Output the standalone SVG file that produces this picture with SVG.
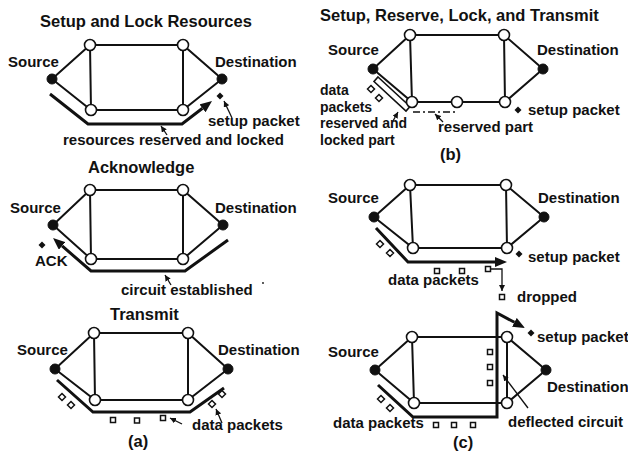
<svg xmlns="http://www.w3.org/2000/svg" width="628" height="453" viewBox="0 0 628 453">
<style>
text{font-family:"Liberation Sans",Arial,Helvetica,sans-serif;font-weight:bold;fill:#111}
.t{font-size:16.5px}
.l{font-size:15px}
.s{font-size:14px}
.e{stroke:#111;stroke-width:2;fill:none}
.c{stroke:#111;stroke-width:3;fill:none;stroke-linejoin:miter}
.p{stroke:#111;stroke-width:1.3;fill:none}
.on{fill:#fff;stroke:#111;stroke-width:1.6}
.fn{fill:#111;stroke:#111;stroke-width:1}
.sp{fill:#111}
.dp{fill:#fff;stroke:#111;stroke-width:1.5}
</style>
<defs>
<marker id="big" viewBox="0 0 12 10" refX="0" refY="5" markerWidth="12" markerHeight="10" markerUnits="userSpaceOnUse" orient="auto"><path d="M0,0 L12,5 L0,10 z" fill="#111"/></marker>
<marker id="ptr" viewBox="0 0 6 6" refX="6" refY="3" markerWidth="6" markerHeight="6" markerUnits="userSpaceOnUse" orient="auto"><path d="M0,0 L6,3 L0,6 z" fill="#111"/></marker>
<g id="dia"><polygon points="0,-3.5 3.5,0 0,3.5 -3.5,0"/></g>
</defs>
<rect width="628" height="453" fill="#fff"/>

<g id="connectors">
<!-- panel a1 edges -->
<path class="e" d="M52,79 L90,45 L183,45 L222,79 L183,110 L91,110 Z M90,45 L91,110 M183,45 L183,110"/>
<!-- panel a2 edges -->
<path class="e" d="M53,225 L90,190 L183,190 L223,225 L183,259 L91,259 Z M90,190 L91,259 M183,190 L183,259"/>
<!-- panel a3 edges -->
<path class="e" d="M55,369 L94,333 L188,333 L228,369 L188,400 L95,400 Z M94,333 L95,400 M188,333 L188,400"/>
<!-- panel b edges -->
<path class="e" d="M373,69 L410,35 L504,35 L543,69 L505,102 L412,102 Z M410,35 L412,102 M504,35 L505,102"/>
<!-- panel c1 edges -->
<path class="e" d="M374,217 L410,185 L506,185 L544,217 L507,248 L413,248 Z M410,185 L413,248 M506,185 L507,248"/>
<!-- panel c2 edges -->
<path class="e" d="M375,370 L412,337 L507,337 L546,370 L507,403 L414,403 Z M412,337 L414,403 M507,337 L507,403"/>

<!-- circuits -->
<path class="c" d="M50,94 L88,124 L182,124 L202.5,108.3" marker-end="url(#big)"/>
<path class="c" d="M228,240 L185,271 L91,271 L62.1,245.9" marker-end="url(#big)"/>
<path class="c" d="M57,380 L93,412 L190,412 L224,388"/>
<polygon points="378,77 410,106.5 406,111 374,81.5" fill="#fff" stroke="#111" stroke-width="1.6"/>
<path class="p" d="M413,112 L457,112" stroke-dasharray="7,3,2,3"/>
<path class="c" d="M376,228 L408,262 L495,262" marker-end="url(#big)"/>
<path class="c" d="M378,385 L413,417 L497,417 L497,313 L514.4,322.3" marker-end="url(#big)"/>

<!-- pointers -->
<path class="p" d="M232,118 L224,101" marker-end="url(#ptr)"/>
<path class="p" d="M167,135 L161,126" marker-end="url(#ptr)"/>
<path class="p" d="M171,285 L165,275" marker-end="url(#ptr)"/>
<path class="p" d="M182,424 L170,418" marker-end="url(#ptr)"/>
<path class="p" d="M222,423 L216,409" marker-end="url(#ptr)"/>
<path class="p" d="M393,121 L398,112" marker-end="url(#ptr)"/>
<path class="p" d="M443,122 L435,114" marker-end="url(#ptr)"/>
<path class="p" d="M491,269 L502,269 L502,291" marker-end="url(#ptr)"/>
<path class="p" d="M528,408 L503,375" marker-end="url(#ptr)"/>
</g>

<!-- panel a1 nodes -->
<g id="a1-source"><circle class="fn" cx="52" cy="79" r="5"/></g>
<g id="a1-dest"><circle class="fn" cx="222" cy="79" r="5"/></g>
<g id="a1-tl"><circle class="on" cx="90" cy="45" r="5.5"/></g>
<g id="a1-tr"><circle class="on" cx="183" cy="45" r="5.5"/></g>
<g id="a1-bl"><circle class="on" cx="91" cy="110" r="5.5"/></g>
<g id="a1-br"><circle class="on" cx="183" cy="110" r="5.5"/></g>
<!-- panel a2 nodes -->
<g id="a2-source"><circle class="fn" cx="53" cy="225" r="5"/></g>
<g id="a2-dest"><circle class="fn" cx="223" cy="225" r="5"/></g>
<g id="a2-tl"><circle class="on" cx="90" cy="190" r="5.5"/></g>
<g id="a2-tr"><circle class="on" cx="183" cy="190" r="5.5"/></g>
<g id="a2-bl"><circle class="on" cx="91" cy="259" r="5.5"/></g>
<g id="a2-br"><circle class="on" cx="183" cy="259" r="5.5"/></g>
<!-- panel a3 nodes -->
<g id="a3-source"><circle class="fn" cx="55" cy="369" r="5"/></g>
<g id="a3-dest"><circle class="fn" cx="228" cy="369" r="5"/></g>
<g id="a3-tl"><circle class="on" cx="94" cy="333" r="5.5"/></g>
<g id="a3-tr"><circle class="on" cx="188" cy="333" r="5.5"/></g>
<g id="a3-bl"><circle class="on" cx="95" cy="400" r="5.5"/></g>
<g id="a3-br"><circle class="on" cx="188" cy="400" r="5.5"/></g>
<!-- panel b nodes -->
<g id="b-source"><circle class="fn" cx="373" cy="69" r="5"/></g>
<g id="b-dest"><circle class="fn" cx="543" cy="69" r="5"/></g>
<g id="b-tl"><circle class="on" cx="410" cy="35" r="5.5"/></g>
<g id="b-tr"><circle class="on" cx="504" cy="35" r="5.5"/></g>
<g id="b-bl"><circle class="on" cx="412" cy="102" r="5.5"/></g>
<g id="b-mid"><circle class="on" cx="457" cy="102" r="5.5"/></g>
<g id="b-br"><circle class="on" cx="505" cy="102" r="5.5"/></g>
<!-- panel c1 nodes -->
<g id="c1-source"><circle class="fn" cx="374" cy="217" r="5"/></g>
<g id="c1-dest"><circle class="fn" cx="544" cy="217" r="5"/></g>
<g id="c1-tl"><circle class="on" cx="410" cy="185" r="5.5"/></g>
<g id="c1-tr"><circle class="on" cx="506" cy="185" r="5.5"/></g>
<g id="c1-bl"><circle class="on" cx="413" cy="248" r="5.5"/></g>
<g id="c1-br"><circle class="on" cx="507" cy="248" r="5.5"/></g>
<!-- panel c2 nodes -->
<g id="c2-source"><circle class="fn" cx="375" cy="370" r="5"/></g>
<g id="c2-dest"><circle class="fn" cx="546" cy="370" r="5"/></g>
<g id="c2-tl"><circle class="on" cx="412" cy="337" r="5.5"/></g>
<g id="c2-tr"><circle class="on" cx="507" cy="337" r="5.5"/></g>
<g id="c2-bl"><circle class="on" cx="414" cy="403" r="5.5"/></g>
<g id="c2-br"><circle class="on" cx="507" cy="403" r="5.5"/></g>

<!-- packets -->
<g id="packets">
<use href="#dia" class="sp" x="220" y="96"/>
<use href="#dia" class="sp" x="42" y="245"/>
<use href="#dia" class="dp" x="62" y="397"/>
<use href="#dia" class="dp" x="71" y="405"/>
<use href="#dia" class="dp" x="212" y="404"/>
<use href="#dia" class="dp" x="222" y="394"/>
<rect class="dp" x="110.5" y="417.5" width="5" height="5"/>
<rect class="dp" x="134.5" y="418" width="5" height="5"/>
<rect class="dp" x="160.5" y="415.5" width="5" height="5"/>
<use href="#dia" class="dp" x="371" y="89"/>
<use href="#dia" class="dp" x="379" y="98"/>
<use href="#dia" class="sp" x="518" y="110"/>
<use href="#dia" class="sp" x="519" y="254"/>
<use href="#dia" class="dp" x="380" y="244"/>
<use href="#dia" class="dp" x="390" y="253"/>
<rect class="dp" x="434.5" y="268.5" width="5" height="5"/>
<rect class="dp" x="459.5" y="268.5" width="5" height="5"/>
<rect class="dp" x="485.5" y="266.5" width="5" height="5"/>
<rect class="dp" x="499.5" y="294.5" width="5" height="5"/>
<use href="#dia" class="sp" x="531" y="333"/>
<use href="#dia" class="dp" x="381" y="399"/>
<use href="#dia" class="dp" x="390" y="408"/>
<rect class="dp" x="433.5" y="422.5" width="5" height="5"/>
<rect class="dp" x="451.5" y="422.5" width="5" height="5"/>
<rect class="dp" x="470.5" y="422.5" width="5" height="5"/>
<rect class="dp" x="487.5" y="349.5" width="5" height="5"/>
<rect class="dp" x="487.5" y="364.5" width="5" height="5"/>
<rect class="dp" x="487.5" y="380.5" width="5" height="5"/>
<circle cx="263" cy="283" r="0.9" fill="#111"/>
</g>

<g id="labels">
<text class="t" x="40" y="27">Setup and Lock Resources</text>
<text class="l" x="8" y="67">Source</text>
<text class="l" x="215" y="67">Destination</text>
<text class="l" x="208" y="126">setup packet</text>
<text class="l" x="63" y="145">resources reserved and locked</text>

<text class="t" x="88" y="173">Acknowledge</text>
<text class="l" x="10" y="213">Source</text>
<text class="l" x="215" y="213">Destination</text>
<text class="l" x="35" y="266">ACK</text>
<text class="l" x="121" y="295">circuit established</text>

<text class="t" x="110" y="320">Transmit</text>
<text class="l" x="17" y="355">Source</text>
<text class="l" x="218" y="355">Destination</text>
<text class="l" x="192" y="430">data packets</text>
<text class="t" x="128" y="447">(a)</text>

<text class="t" x="320" y="21">Setup, Reserve, Lock, and Transmit</text>
<text class="l" x="328" y="55">Source</text>
<text class="l" x="537" y="55">Destination</text>
<text class="s" x="320" y="95">data</text>
<text class="s" x="320" y="111.5">packets</text>
<text class="s" x="320" y="128">reserved and</text>
<text class="s" x="320" y="144.5">locked part</text>
<text class="l" x="528" y="115">setup packet</text>
<text class="l" x="438" y="132">reserved part</text>
<text class="t" x="440" y="160">(b)</text>

<text class="l" x="328" y="203">Source</text>
<text class="l" x="538" y="203">Destination</text>
<text class="l" x="528" y="262">setup packet</text>
<text class="l" x="388" y="285">data packets</text>
<text class="l" x="517" y="302">dropped</text>

<text class="l" x="328" y="357">Source</text>
<text class="l" x="547" y="392">Destination</text>
<text class="l" x="537" y="342">setup packet</text>
<text class="l" x="333" y="428">data packets</text>
<text class="l" x="508" y="427">deflected circuit</text>
<text class="t" x="453" y="448">(c)</text>
</g>
</svg>
